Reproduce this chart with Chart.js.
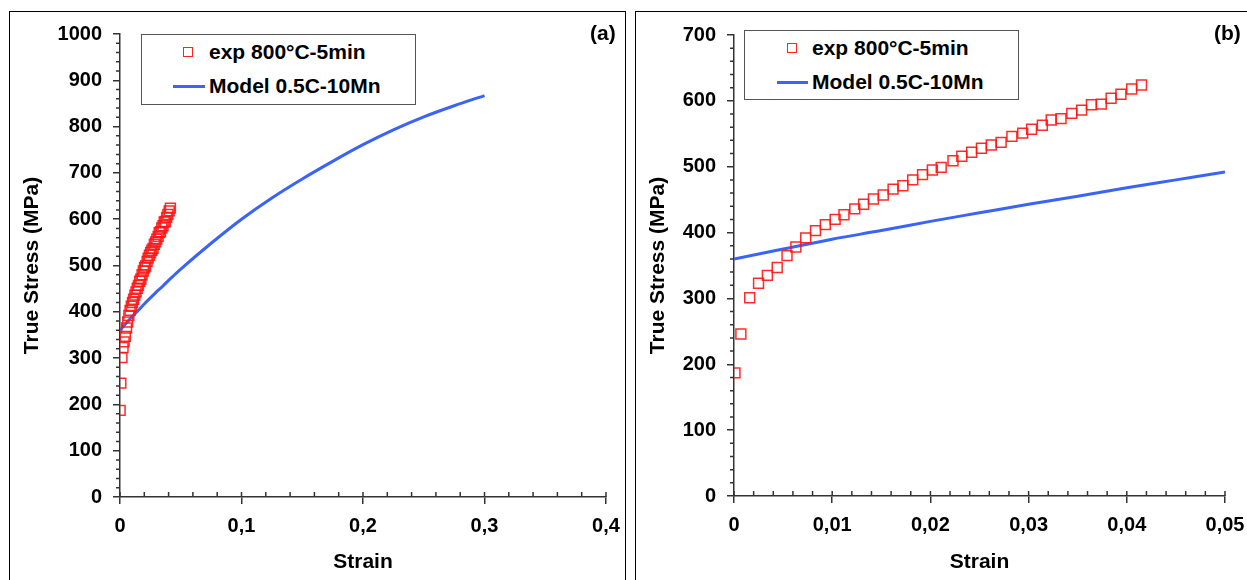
<!DOCTYPE html>
<html>
<head>
<meta charset="utf-8">
<script src="https://cdn.jsdelivr.net/npm/chart.js@4.4.1/dist/chart.umd.min.js"></script>
<style>
body { margin: 0; background: #fff; width: 1247px; height: 580px; overflow: hidden; position: relative; font-family: "Liberation Sans", Arial, sans-serif; }
.panel { position: absolute; box-sizing: border-box; border: 1.5px solid #000; }
canvas { position: absolute; }
.lg { position: absolute; box-sizing: border-box; border: 1.5px solid #555; background: #fff; }
.txt { position: absolute; font-weight: bold; font-size: 21px; line-height: 21px; color: #000; white-space: nowrap; }
.sq { position: absolute; width: 10px; height: 10px; box-sizing: border-box; border: 1.5px solid #ff2020; }
.ln { position: absolute; height: 3px; background: #3b63f5; }
</style>
</head>
<body>
<div class="panel" style="left:9px; top:11px; width:617px; height:600px;"></div>
<div class="panel" style="left:635px; top:11px; width:700px; height:600px;"></div>

<canvas id="chartA" width="616" height="568" style="left:10px; top:12px;"></canvas>
<canvas id="chartB" width="611" height="568" style="left:636px; top:12px;"></canvas>

<!-- legend (a) -->
<div class="lg" style="left:141px; top:34px; width:275px; height:71px;"></div>
<div class="sq" style="left:183px; top:47px;"></div>
<div class="txt" style="left:209px; top:41px;">exp 800°C-5min</div>
<div class="ln" style="left:173px; top:85px; width:32px;"></div>
<div class="txt" style="left:209px; top:75px;">Model 0.5C-10Mn</div>
<div class="txt" style="left:590px; top:22px;">(a)</div>

<!-- legend (b) -->
<div class="lg" style="left:744px; top:30px; width:275px; height:70px;"></div>
<div class="sq" style="left:787px; top:43px;"></div>
<div class="txt" style="left:812px; top:37px;">exp 800°C-5min</div>
<div class="ln" style="left:777px; top:81px; width:31px;"></div>
<div class="txt" style="left:812px; top:71px;">Model 0.5C-10Mn</div>
<div class="txt" style="left:1214px; top:22px;">(b)</div>

<script>
// experimental points (strain, true stress in MPa)
const expStrain = [0.0001, 0.0007, 0.0016, 0.0025, 0.0034, 0.0044, 0.0054, 0.0063, 0.0073, 0.0083,
                   0.0093, 0.0103, 0.0112, 0.0123, 0.0132, 0.0142, 0.0152, 0.0162, 0.0172, 0.0182,
                   0.0192, 0.0202, 0.0211, 0.0223, 0.0232, 0.0242, 0.0252, 0.0262, 0.0272, 0.0283,
                   0.0294, 0.0303, 0.0314, 0.0323, 0.0333, 0.0344, 0.0354, 0.0364, 0.0374, 0.0384,
                   0.0394, 0.0405, 0.0415];
const expStress = [187, 246, 301, 323, 335, 347, 365, 378, 392, 403,
                   412, 420, 427, 436, 443, 451, 457, 466, 471, 480,
                   488, 495, 499, 509, 516, 522, 528, 533, 537, 546,
                   551, 557, 563, 571, 573, 581, 586, 594, 595, 604,
                   610, 618, 624];

// model curve
const modelStrain = [0, 0.005, 0.01, 0.015, 0.02, 0.025, 0.03, 0.035, 0.04, 0.045, 0.05,
                     0.075, 0.1, 0.125, 0.15, 0.175, 0.2, 0.225, 0.25, 0.275, 0.3];
const modelStress = [360, 375, 390, 403, 417, 430, 443, 455, 468, 480, 492,
                     548, 600, 646, 687, 725, 761, 793, 821, 845, 867];

const expLabel = 'exp 800°C-5min';
const modelLabel = 'Model 0.5C-10Mn';

Chart.defaults.font.family = '"Liberation Sans", Arial, sans-serif';
Chart.defaults.color = '#000';

function toPoints(xs, ys) {
    return xs.map((x, i) => ({ x: x, y: ys[i] }));
}

function commaLabel(v) {
    return String(parseFloat(Number(v).toFixed(3))).replace('.', ',');
}

// small ticks: y minor outward, x minor (and major) inward
const minorTicks = {
    id: 'minorTicks',
    afterDraw(chart, args, opts) {
        const ctx = chart.ctx;
        const xs = chart.scales.x, ys = chart.scales.y;
        const area = chart.chartArea;
        ctx.save();
        ctx.strokeStyle = '#333';
        ctx.lineWidth = 1.5;
        ctx.beginPath();
        const nx = Math.round((xs.max - xs.min) / opts.xMinor);
        for (let i = 0; i <= nx; i++) {
            const px = xs.getPixelForValue(xs.min + i * opts.xMinor);
            ctx.moveTo(px, area.bottom);
            ctx.lineTo(px, area.bottom - 5);
        }
        const ny = Math.round((ys.max - ys.min) / opts.yMinor);
        for (let j = 0; j <= ny; j++) {
            if (j % opts.yEvery === 0) continue;
            const py = ys.getPixelForValue(ys.min + j * opts.yMinor);
            ctx.moveTo(area.left, py);
            ctx.lineTo(area.left - 4, py);
        }
        ctx.stroke();
        ctx.restore();
    }
};

function makeChart(id, s) {
    return new Chart(id, {
        type: 'scatter',
        data: {
            datasets: [{
                label: expLabel,
                data: toPoints(expStrain, expStress),
                showLine: false,
                pointStyle: 'rect',
                pointRadius: 7,
                pointBorderWidth: 1.5,
                borderColor: 'rgba(255,20,20,0.9)',
                backgroundColor: 'rgba(0,0,0,0)'
            }, {
                label: modelLabel,
                data: toPoints(modelStrain, modelStress),
                showLine: true,
                pointRadius: 0,
                borderColor: '#3b63f5',
                borderWidth: 3,
                cubicInterpolationMode: 'monotone'
            }]
        },
        options: {
            responsive: false,
            animation: false,
            events: [],
            layout: { padding: s.padding },
            plugins: {
                legend: { display: false },
                tooltip: { enabled: false },
                minorTicks: s.minor
            },
            scales: {
                x: {
                    type: 'linear',
                    min: 0,
                    max: s.xMax,
                    afterFit(scale) {
                        scale.height = s.xHeight;
                        scale.paddingLeft = 0;
                        scale.paddingRight = 0;
                    },
                    ticks: {
                        stepSize: s.xStep,
                        callback: commaLabel,
                        color: '#000',
                        font: { size: 20, weight: 'bold' },
                        padding: 10,
                        maxRotation: 0,
                        autoSkip: false
                    },
                    grid: { drawOnChartArea: false, tickLength: 7, color: '#333', lineWidth: 1.5 },
                    border: { color: '#333', width: 1.5 },
                    title: {
                        display: true,
                        text: 'Strain',
                        color: '#000',
                        font: { size: 21, weight: 'bold' },
                        padding: { top: 0, bottom: 5 }
                    }
                },
                y: {
                    min: 0,
                    max: s.yMax,
                    afterFit(scale) {
                        scale.width = s.yWidth;
                        scale.paddingTop = 0;
                        scale.paddingBottom = 0;
                    },
                    ticks: {
                        stepSize: 100,
                        callback: v => String(v),
                        color: '#000',
                        font: { size: 20, weight: 'bold' },
                        padding: 11
                    },
                    grid: { drawOnChartArea: false, tickLength: 7, color: '#333', lineWidth: 1.5 },
                    border: { color: '#333', width: 1.5 },
                    title: {
                        display: true,
                        text: 'True Stress (MPa)',
                        color: '#000',
                        font: { size: 21, weight: 'bold' },
                        padding: { top: 10, bottom: 0 }
                    }
                }
            }
        },
        plugins: [minorTicks]
    });
}

makeChart('chartA', {
    xMax: 0.4, xStep: 0.1, yMax: 1000,
    xHeight: 83, yWidth: 110,
    padding: { left: 0, right: 20, top: 22, bottom: 0 },
    minor: { xMinor: 0.02, yMinor: 20, yEvery: 5 }
});

makeChart('chartB', {
    xMax: 0.05, xStep: 0.01, yMax: 700,
    xHeight: 84, yWidth: 98,
    padding: { left: 0, right: 22, top: 23, bottom: 0 },
    minor: { xMinor: 0.002, yMinor: 20, yEvery: 5 }
});
</script>
</body>
</html>
